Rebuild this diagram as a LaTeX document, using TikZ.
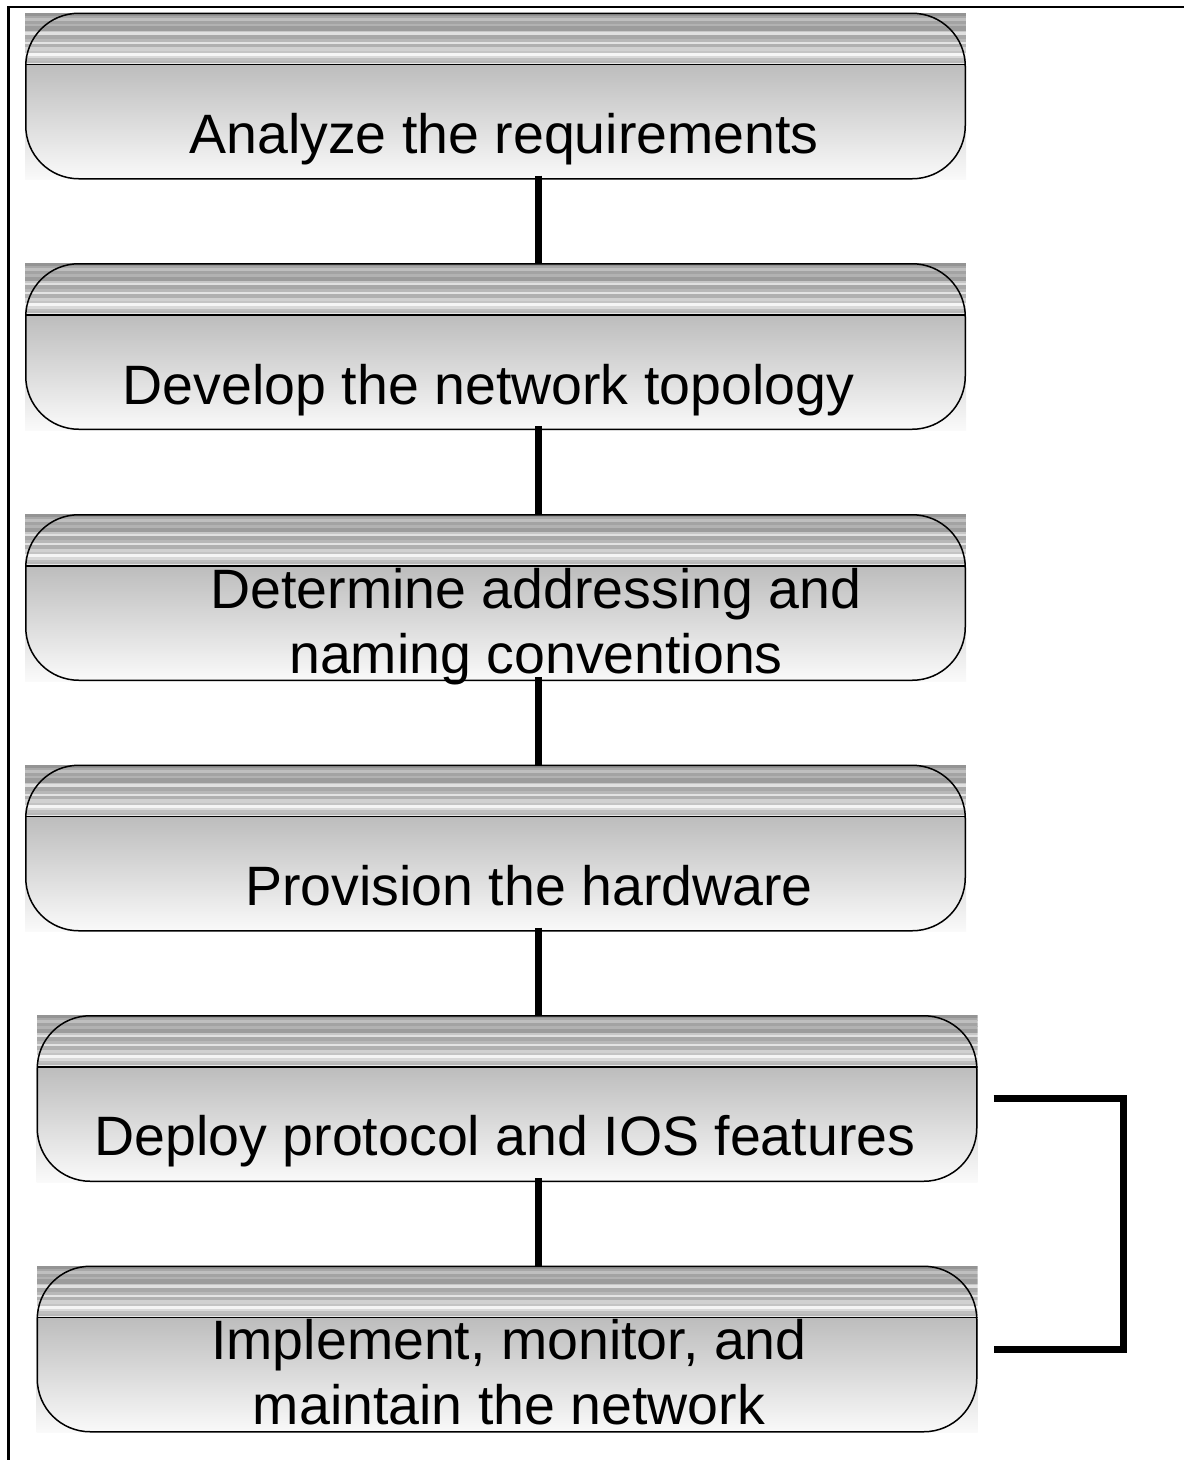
\documentclass[tikz,border=0pt]{standalone}
\usepackage{fontspec}
\setmainfont{Liberation Sans}
\usetikzlibrary{calc}

\newcommand{\stagefont}{\fontsize{55.5}{65}\selectfont}

\tikzset{
  x=1pt, y=-1pt,
  % rectangular gradient plate with a striped header band and a rounded outline
  stagebox/.style={
    rectangle, minimum width=941pt, minimum height=167pt,
    inner sep=0pt, outer sep=0pt, fill=white,
    path picture={
      \coordinate (pnw) at (path picture bounding box.north west);
      \coordinate (pne) at (path picture bounding box.north east);
      \coordinate (pse) at (path picture bounding box.south east);
      \foreach \a/\b/\g in {0/3/42, 3/5.3/34, 5.3/8/25, 8/11.3/36, 11.3/13.7/30,
          13.7/18/39, 18/19.7/22, 19.7/22.3/12, 22.3/26.3/34, 26.3/29/28,
          29/31.3/11, 31.3/34.7/31, 34.7/38/18, 38/40.3/23, 40.3/43/4,
          43/45.7/15, 45.7/48/25, 48/50.3/28, 50.3/52/9}
        \fill[black!\g] ($(pnw)+(0,\a)$) rectangle ($(pne)+(0,\b+0.2)$);
      \shade[top color=black!26, bottom color=black!2]
        ($(pnw)+(0,52)$) rectangle (pse);
      \draw[line width=1.5pt, rounded corners=53pt]
        ($(pnw)+(0.75,0.75)$) rectangle ($(pse)+(-0.75,-0.75)$);
      \draw[line width=1.5pt] ($(pnw)+(0,52)$) -- ($(pne)+(0,52)$);
    }},
  % captions are anchored on the baseline of their last line
  stagetext/.style={font=\stagefont, align=center, inner sep=0pt, anchor=base},
  link/.style={line width=7pt, line cap=butt, line join=miter},
  frameline/.style={line width=2.5pt}
}

\begin{document}
\begin{tikzpicture}
\useasboundingbox (0,0) rectangle (1184,1460);

% page frame: top and left rules
\draw[frameline] (1184,7) -- (8.5,7) -- (8.5,1460);

% stage plates
\node[stagebox] (b1) at (495.5,96) {};
\node[stagebox] (b2) at (495.5,346.5) {};
\node[stagebox] (b3) at (495.5,597.5) {};
\node[stagebox] (b4) at (495.5,848) {};
\node[stagebox] (b5) at (507,1098.5) {};
\node[stagebox] (b6) at (507,1349) {};

% stage captions
\node[stagetext] (t1) at (504,153) {Analyze the requirements};
\node[stagetext] (t2) at (488.5,404) {Develop the network topology};
\node[stagetext] (t3) at (536,673) {Determine addressing and\\naming conventions};
\node[stagetext] (t4) at (529,905) {Provision the hardware};
\node[stagetext] (t5) at (505,1155) {Deploy protocol and IOS features};
\node[stagetext] (t6) at (509,1424) {Implement, monitor, and\\maintain the network};

% vertical spine joining the stages
\coordinate (spine) at (538,0);
\draw[link] (spine |- b1.south) ++(0,-4) -- (spine |- b2.north);
\draw[link] (spine |- b2.south) ++(0,-4) -- (spine |- b3.north);
\draw[link] (spine |- b3.south) ++(0,-4) -- (spine |- b4.north);
\draw[link] (spine |- b4.south) ++(0,-4) -- (spine |- b5.north);
\draw[link] (spine |- b5.south) ++(0,-4) -- (spine |- b6.north);

% feedback bracket between the last two stages
\draw[link] ([xshift=16pt]b5.east) -- ++(130,0) |- ([xshift=16pt]b6.east);
\end{tikzpicture}
\end{document}
